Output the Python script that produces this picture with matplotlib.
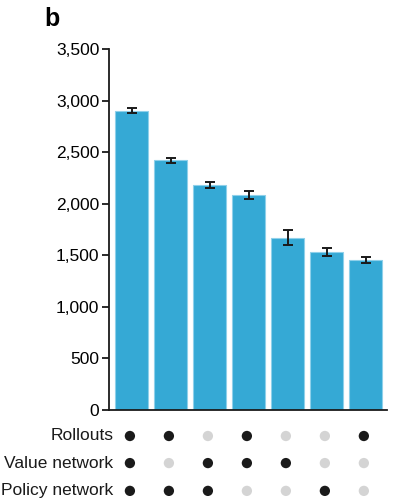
import matplotlib.pyplot as plt
import numpy as np

plt.rcParams['font.family'] = ['Liberation Sans', 'DejaVu Sans']

# Elo ratings of the AlphaGo variants
ratings = [2900, 2420, 2180, 2085, 1672, 1530, 1455]
errors = [25, 25, 30, 40, 70, 38, 28]

row_labels = ["Rollouts", "Value network", "Policy network"]
# 1 = component used, 0 = not used
rollouts = [1, 1, 0, 1, 0, 0, 1]
value_net = [1, 0, 1, 1, 1, 0, 0]
policy_net = [1, 1, 1, 0, 0, 1, 0]

yticks = [0, 500, 1000, 1500, 2000, 2500, 3000, 3500]

fig = plt.figure(figsize=(3.98, 5.04), dpi=100)
ax = fig.add_axes([0.274, 0.1865, 0.698, 0.7163])

x = np.arange(len(ratings))
ax.bar(x, ratings, width=0.85, color='#35a9d5', edgecolor='#8fd0ea', linewidth=0.8)
ax.errorbar(x, ratings, yerr=errors, fmt='none', ecolor='#1a1a1a',
            elinewidth=1.4, capsize=3.5, capthick=1.4)

ax.set_xlim(-0.585, 6.54)
ax.set_ylim(0, 3500)
ax.set_yticks(yticks)
ax.set_yticklabels([f"{v:,}" for v in yticks], fontsize=12.5)
ax.set_xticks([])
for s in ['top', 'right']:
    ax.spines[s].set_visible(False)
ax.spines['left'].set_linewidth(1.3)
ax.spines['bottom'].set_linewidth(1.3)
ax.spines['left'].set_color('#1a1a1a')
ax.spines['bottom'].set_color('#1a1a1a')
ax.tick_params(axis='y', length=5, width=1.3, color='#1a1a1a', pad=2)

# component dots under the bars
trans = ax.get_xaxis_transform()
row_y = [-0.072, -0.147, -0.224]
for yy, label, flags in zip(row_y, row_labels, [rollouts, value_net, policy_net]):
    cols = ['#1a1a1a' if f else '#d4d4d4' for f in flags]
    ax.scatter(x - 0.05, [yy] * len(x), s=55, c=cols, transform=trans,
               clip_on=False, linewidths=0)
    ax.text(-0.48, yy, label, transform=trans, ha='right', va='center',
            fontsize=12.5, color='#1a1a1a')

fig.text(0.112, 0.962, "b", fontsize=18, fontweight='heavy', va='center', ha='left')

fig.savefig("out.png", dpi=100)
